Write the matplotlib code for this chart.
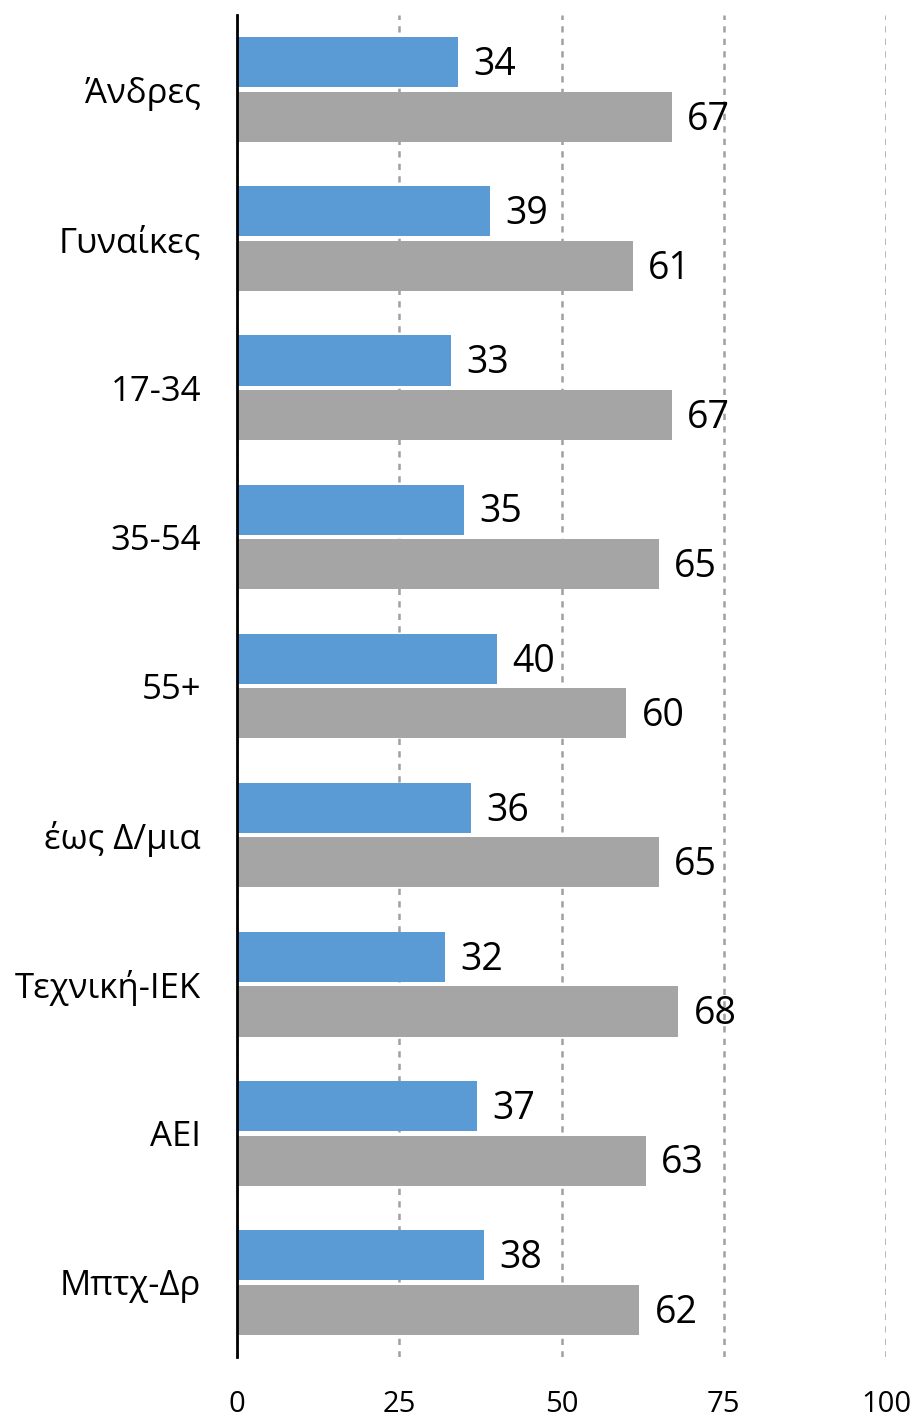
import numpy as np
import matplotlib
matplotlib.use('Agg')
import matplotlib.pyplot as plt

plt.rcParams['font.family'] = ['Open Sans', 'DejaVu Sans']

# data
categories = ['Άνδρες', 'Γυναίκες', '17-34', '35-54', '55+',
              'έως Δ/μια', 'Τεχνική-ΙΕΚ', 'ΑΕΙ', 'Μπτχ-Δρ']
blue_vals = [34, 39, 33, 35, 40, 36, 32, 37, 38]
gray_vals = [67, 61, 67, 65, 60, 65, 68, 63, 62]
xticks = [0, 25, 50, 75, 100]


def main():
    fig = plt.figure(figsize=(9.19, 14.19), dpi=100)
    ax = fig.add_axes([0.258, 0.0437, 0.706, 0.9457])

    y = np.arange(len(categories))
    h = 0.336
    off = 0.183
    ax.barh(y - off, blue_vals, height=h, color='#5B9BD5', zorder=3)
    ax.barh(y + off, gray_vals, height=h, color='#A5A5A5', zorder=3)

    # value labels
    for i in range(len(categories)):
        ax.annotate(str(blue_vals[i]), (blue_vals[i], y[i] - off),
                    xytext=(11, -2), textcoords='offset points',
                    va='center', ha='left', fontsize=27, color='black')
        ax.annotate(str(gray_vals[i]), (gray_vals[i], y[i] + off),
                    xytext=(11, -2), textcoords='offset points',
                    va='center', ha='left', fontsize=27, color='black')

    ax.set_xlim(0, 100)
    ax.set_ylim(len(categories) - 0.5, -0.5)
    ax.set_yticks(y)
    ax.set_yticklabels(categories, fontsize=25)
    ax.set_xticks(xticks)
    ax.set_xticklabels([str(t) for t in xticks], fontsize=21)
    ax.tick_params(axis='y', length=0, pad=26)
    ax.tick_params(axis='x', length=0, pad=24)

    for s in ['top', 'right', 'bottom']:
        ax.spines[s].set_visible(False)
    ax.spines['left'].set_linewidth(2)
    ax.spines['left'].set_color('black')
    ax.spines['left'].set_zorder(4)

    ax.xaxis.grid(True, linestyle=(0, (2.5, 2.5)), color='#A0A0A0', linewidth=1.8, zorder=0)
    ax.yaxis.grid(False)

    fig.savefig('out.png', dpi=100)


if __name__ == '__main__':
    main()
